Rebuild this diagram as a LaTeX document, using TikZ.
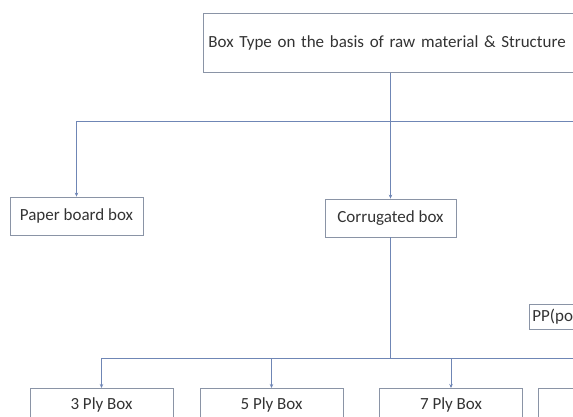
\documentclass[tikz,border=0pt]{standalone}
\usepackage{fontspec}
\setmainfont{Carlito}
\usetikzlibrary{arrows.meta}
\definecolor{boxgray}{HTML}{8A94A6}
\definecolor{linkblue}{HTML}{6F86B5}
\definecolor{txtgray}{HTML}{333333}
\begin{document}
\begin{tikzpicture}[x=1pt, y=1pt, >={Stealth[length=4pt,width=3.5pt]},
	box/.style = {draw=boxgray, line width=0.8pt, minimum height=38pt, inner sep=0pt, text=txtgray, font=\fontsize{17}{20}\selectfont},
	link/.style = {draw=linkblue, line width=0.9pt}]
		\useasboundingbox (0,0) rectangle (573,-416);
		\clip (0,0) rectangle (573,-416);
		\node[box, anchor=north west, minimum width=520pt, minimum height=59pt, inner xsep=5pt, text width=510pt, align=left] (top) at (203,-13) {Box Type on the basis of raw material \& Structure};
		\node[box, minimum width=133pt] (paper) at (76.5,-216) {Paper board box};
		\node[box, minimum width=131pt] (corr) at (390.5,-218) {Corrugated box};
		\node[box, anchor=north west, minimum width=170pt, minimum height=25pt, inner xsep=3pt, text width=164pt, align=left] (pp) at (529,-304) {PP(polypropylene) box};
		\foreach \name/\cx/\lbl in {ply3/101.5/3 Ply Box, ply5/271.5/5 Ply Box, ply7/451/7 Ply Box, ply9/610/9 Ply Box}
			\node[box, anchor=north, minimum width=143pt, minimum height=34pt] (\name) at (\cx,-388) {\lbl};
		\coordinate (busA) at (620,-121);
		\coordinate (busB) at (620,-358);
		\draw[link,->] (top.south -| corr.north) to (corr.north);
		\draw[link,->] (busA) -| (paper.north);
		\draw[link] (corr.south) to (corr.south |- busB);
		\draw[link,->] (busB) -| (ply3.north);
		\foreach \name in {ply5, ply7, ply9}
			\draw[link,->] (busB -| \name.north) to (\name.north);

	\end{tikzpicture}
\end{document}
